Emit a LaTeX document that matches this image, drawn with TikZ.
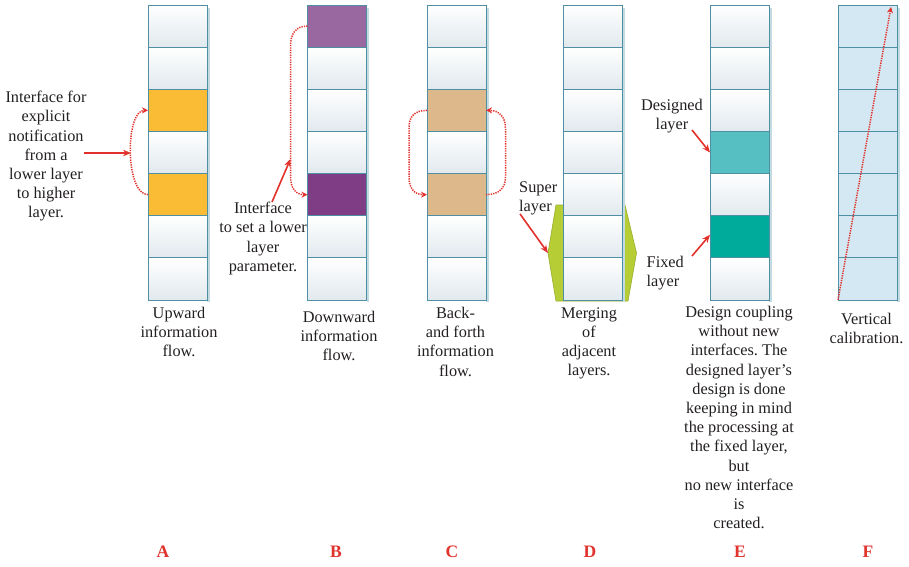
\documentclass[tikz,border=0pt]{standalone}
\usepackage{fontspec}
\setmainfont{Liberation Serif}
\usetikzlibrary{arrows.meta}
\frenchspacing

\definecolor{cellline}{HTML}{4F8FA3}
\definecolor{cellbot}{HTML}{E1E9EE}
\definecolor{cellshadow}{HTML}{C4DAE1}
\definecolor{upcol}{HTML}{F9BC34}
\definecolor{downlight}{HTML}{9A68A1}
\definecolor{downdark}{HTML}{7E3D84}
\definecolor{backcol}{HTML}{DDB88A}
\definecolor{designcol}{HTML}{55BFC2}
\definecolor{fixedcol}{HTML}{00AB9C}
\definecolor{calibcol}{HTML}{D3E8F2}
\definecolor{supercol}{HTML}{B6CD36}
\definecolor{superline}{HTML}{98AE2A}
\definecolor{arrowred}{HTML}{E2312B}
\definecolor{letterred}{HTML}{E0332E}
\definecolor{textcol}{HTML}{231F20}

% one stack of seven protocol layers: #1 name prefix, #2 left edge, #3 cell styles
\newcommand\layerstack[3]{%
  \fill[cellshadow] (#2+59,8) rectangle (#2+61.5,302);
  \foreach \st [count=\r] in {#3}{%
    \edef\makecell{\noexpand\node[cell,\st] (#1\r) at (#2,{5+(\r-1)*42.143}) {};}%
    \makecell
  }}

\tikzset{
  cell/.style={draw=cellline, line width=0.8pt, minimum width=59pt,
    minimum height=42.143pt, inner sep=0pt, outer sep=0pt, anchor=north west},
  plain/.style={top color=white, bottom color=cellbot},
  flat/.style={top color=#1, bottom color=#1},
  upc/.style={flat=upcol},
  dlc/.style={flat=downlight},
  ddc/.style={flat=downdark},
  bkc/.style={flat=backcol},
  dsc/.style={flat=designcol},
  fxc/.style={flat=fixedcol},
  cal/.style={flat=calibcol},
  lbl/.style={font=\fontsize{16.3}{19.2}\selectfont, text=textcol,
    align=center, inner sep=0pt, anchor=north},
  letter/.style={font=\fontsize{17.5}{20}\selectfont\bfseries, text=letterred,
    inner sep=0pt, anchor=base},
  redarr/.style={arrowred, line width=1.6pt, -{Stealth[length=8pt,width=6.5pt]}},
  dotarr/.style={arrowred, line width=1.5pt, dash pattern=on 1.3pt off 1.1pt,
    -{Stealth[length=6pt,width=6pt]}},
}

\begin{document}
\begin{tikzpicture}[x=1pt,y=-1pt]
\useasboundingbox (0,0) rectangle (909,566);

% super layer hexagon behind the merged stack
\filldraw[fill=supercol, draw=superline, line width=0.6pt]
  (556,205) -- (625,205) -- (636.5,253) -- (628,301) -- (556,301) -- (548,253) -- cycle;
\coordinate (hexL) at (548,253);

% the six layer stacks
\layerstack{A}{148}{plain,plain,upc,plain,upc,plain,plain}
\layerstack{B}{307.5}{dlc,plain,plain,plain,ddc,plain,plain}
\layerstack{C}{427}{plain,plain,bkc,plain,bkc,plain,plain}
\layerstack{D}{563}{plain,plain,plain,plain,plain,plain,plain}
\layerstack{E}{710}{plain,plain,plain,dsc,plain,fxc,plain}
\layerstack{F}{838}{cal,cal,cal,cal,cal,cal,cal}

% side notes
\node[lbl] (atext) at (46,91) {Interface for\\explicit\\notification\\from a\\lower layer\\to higher\\layer.};
\node[lbl] (btext) at (263,202) {Interface\\to set a lower\\layer\\parameter.};
\node[lbl, align=left, anchor=north west] (suptext) at (519,181) {Super\\layer};
\node[lbl] (dtext) at (672,99) {Designed\\layer};
\node[lbl, align=left, anchor=north west] (ftext) at (646.5,256) {Fixed\\layer};

% captions under the stacks
\node[lbl] (capA) at (179,307) {Upward\\information\\flow.};
\node[lbl] (capB) at (339,311) {Downward\\information\\flow.};
\node[lbl] (capC) at (455.5,307) {Back-\\and forth\\information\\flow.};
\node[lbl] (capD) at (589,307) {Merging\\of\\adjacent\\layers.};
\node[lbl] (capE) at (739,306) {Design coupling\\without new\\interfaces. The\\designed layer’s\\design is done\\keeping in mind\\the processing at\\the fixed layer,\\but\\no new interface\\is\\created.};
\node[lbl] (capF) at (866.5,312.5) {Vertical\\calibration.};

% panel letters
\node[letter] (LA) at (163,557) {A};
\node[letter] (LB) at (336,557) {B};
\node[letter] (LC) at (452,557) {C};
\node[letter] (LD) at (590,557) {D};
\node[letter] (LE) at (740,557) {E};
\node[letter] (LF) at (868,557) {F};

% A: upward notification
\draw[dotarr] (A5.west) .. controls +(-23,0) and +(-23,0) .. (A3.west);
\coordinate (Ain) at (131,153);
\draw[redarr] ([xshift=-3pt]atext.east |- Ain) -- (Ain);

% B: downward parameter setting
\draw[dotarr] (B1.west) .. controls +(-12,0) and +(0,-12) .. (290.5,46)
  -- (290.5,176) .. controls +(0,12) and +(-12,0) .. (B5.west);
\coordinate (Bhit) at (290.5,159);
\draw[redarr] ([xshift=9pt]btext.north) -- (Bhit);

% C: back and forth
\draw[dotarr] (C3.west) .. controls +(-13,0) and +(0,-11) .. (409,128)
  -- (409,177) .. controls +(0,11) and +(-13,0) .. (C5.west);
\draw[dotarr] (C5.east) .. controls +(13,0) and +(0,11) .. (505.5,177)
  -- (505.5,128) .. controls +(0,-11) and +(13,0) .. (C3.east);

% D: merged super layer
\draw[redarr] ([xshift=1pt,yshift=1pt]suptext.south west) -- (hexL);

% E: design coupling
\coordinate (dstart) at (692,130);
\draw[redarr] (dstart) -- (E4.west);
\coordinate (fstart) at (692,256);
\draw[redarr] (fstart) -- ([yshift=2pt]E6.west);

% F: vertical calibration
\draw[dotarr] (F7.south west) -- ([xshift=-6pt,yshift=-2pt]F1.north east);
\end{tikzpicture}
\end{document}
